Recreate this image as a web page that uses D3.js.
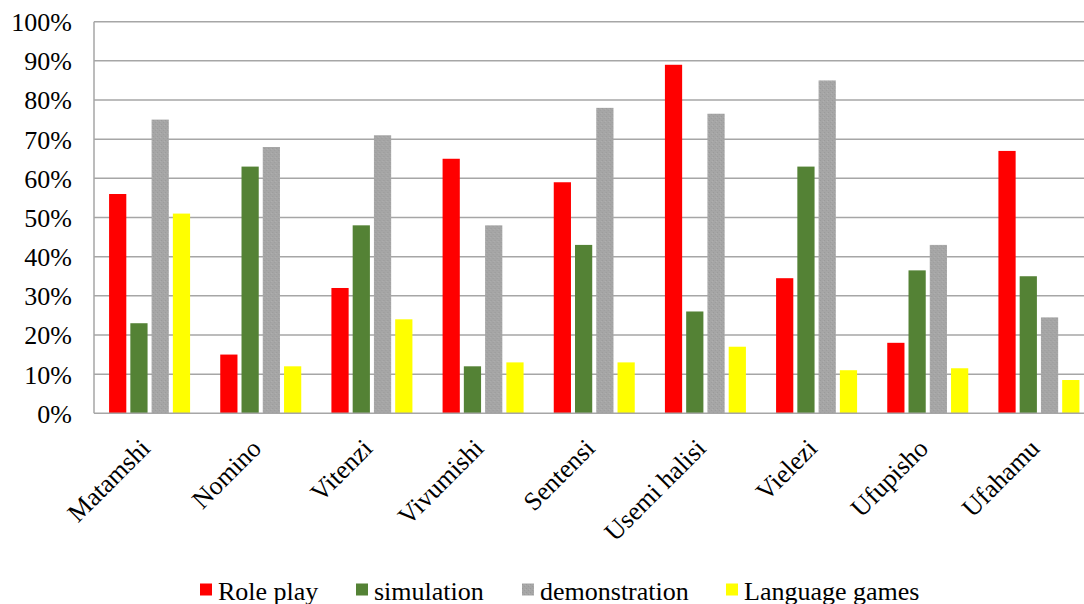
<!DOCTYPE html>
<html>
<head>
<meta charset="utf-8">
<script src="https://cdn.jsdelivr.net/npm/d3@7/dist/d3.min.js"></script>
<style>
  html, body { margin: 0; padding: 0; background: #fff; }
  svg { display: block; }
  svg text { font-family: 'Liberation Serif' !important; }
</style>
</head>
<body>
<svg id="fig" width="1084" height="604" font-family="Liberation Serif"></svg>
<script>
// Teaching strategies used per language skill (% of respondents)
const categories = ["Matamshi", "Nomino", "Vitenzi", "Vivumishi", "Sentensi",
                    "Usemi halisi", "Vielezi", "Ufupisho", "Ufahamu"];
const seriesNames = ["Role play", "simulation", "demonstration", "Language games"];
const rolePlay      = [56, 15, 32, 65, 59, 89, 34.5, 18, 67];
const simulation    = [23, 63, 48, 12, 43, 26, 63, 36.5, 35];
const demonstration = [75, 68, 71, 48, 78, 76.5, 85, 43, 24.5];
const languageGames = [51, 12, 24, 13, 13, 17, 11, 11.5, 8.5];
const yTicks = [0, 10, 20, 30, 40, 50, 60, 70, 80, 90, 100];
const colors = ["#FF0000", "#548235", "url(#greyStipple)", "#FFFF00"];

const FONT = "Liberation Serif";
const FS = 26;
const seriesValues = [rolePlay, simulation, demonstration, languageGames];
const rows = categories.map((c, i) => ({
  category: c,
  values: seriesNames.map((s, k) => ({ key: s, idx: k, value: seriesValues[k][i] }))
}));

const svg = d3.select("#fig");
const margin = { left: 94, top: 21.7, bottom: 413.3 };
const plotRight = 1094.5;

// stippled grey fill for the demonstration series
const defs = svg.append("defs");
const pat = defs.append("pattern")
  .attr("id", "greyStipple").attr("patternUnits", "userSpaceOnUse")
  .attr("width", 4).attr("height", 4);
pat.append("rect").attr("width", 4).attr("height", 4).attr("fill", "#A6A6A6");
pat.append("rect").attr("x", 0).attr("y", 0).attr("width", 1).attr("height", 1).attr("fill", "#9A9A9A");
pat.append("rect").attr("x", 2).attr("y", 2).attr("width", 1).attr("height", 1).attr("fill", "#9C9C9C");
pat.append("rect").attr("x", 3).attr("y", 1).attr("width", 1).attr("height", 1).attr("fill", "#B0B0B0");

const x0 = d3.scaleBand().domain(categories).range([margin.left, plotRight]).padding(0);
const groupWidth = 81;
const x1 = d3.scaleBand().domain(seriesNames).range([0, groupWidth]).paddingInner(0.19).paddingOuter(0);
const y = d3.scaleLinear().domain([0, 100]).range([margin.bottom, margin.top]);

// horizontal gridlines
svg.append("g")
  .selectAll("line").data(yTicks.filter(t => t > 0)).join("line")
  .attr("x1", margin.left).attr("x2", plotRight)
  .attr("y1", d => y(d)).attr("y2", d => y(d))
  .attr("stroke", "#A6A6A6").attr("stroke-width", 1.5);

// bars
const groups = svg.append("g").selectAll("g").data(rows).join("g")
  .attr("transform", d => `translate(${x0(d.category) + (x0.bandwidth() - groupWidth) / 2},0)`);
groups.selectAll("rect").data(d => d.values).join("rect")
  .attr("x", d => x1(d.key))
  .attr("width", x1.bandwidth())
  .attr("y", d => y(d.value))
  .attr("height", d => y(0) - y(d.value))
  .attr("fill", d => colors[d.idx]);

// axis lines
svg.append("line")
  .attr("x1", margin.left).attr("x2", margin.left)
  .attr("y1", y(100)).attr("y2", y(0))
  .attr("stroke", "#A6A6A6").attr("stroke-width", 1.5);
svg.append("line")
  .attr("x1", margin.left).attr("x2", plotRight)
  .attr("y1", y(0)).attr("y2", y(0))
  .attr("stroke", "#A6A6A6").attr("stroke-width", 1.5);

// y tick labels
svg.append("g").selectAll("text").data(yTicks).join("text")
  .attr("font-family", FONT)
  .attr("font-size", FS)
  .attr("fill", "#000")
  .attr("text-anchor", "end")
  .attr("x", margin.left - 22)
  .attr("y", d => y(d))
  .attr("dy", "0.36em")
  .text(d => d + "%");

// rotated category labels
svg.append("g").selectAll("text").data(categories).join("text")
  .attr("font-family", FONT)
  .attr("text-anchor", "end")
  .attr("font-size", FS)
  .attr("fill", "#000")
  .attr("transform", d => `translate(${x0(d) + x0.bandwidth() / 2 + 2},${450}) rotate(-45)`)
  .text(d => d);

// legend
const legendX = [200, 356, 522, 726];
const legend = svg.append("g").selectAll("g").data(seriesNames).join("g")
  .attr("transform", (d, k) => `translate(${legendX[k]},0)`);
legend.append("rect").attr("x", 0).attr("y", 583.5).attr("width", 12).attr("height", 12)
  .attr("fill", (d, k) => colors[k]);
legend.append("text").attr("x", 18).attr("y", 600)
  .attr("font-family", FONT).attr("font-size", FS).attr("fill", "#000")
  .text(d => d);
</script>
</body>
</html>
